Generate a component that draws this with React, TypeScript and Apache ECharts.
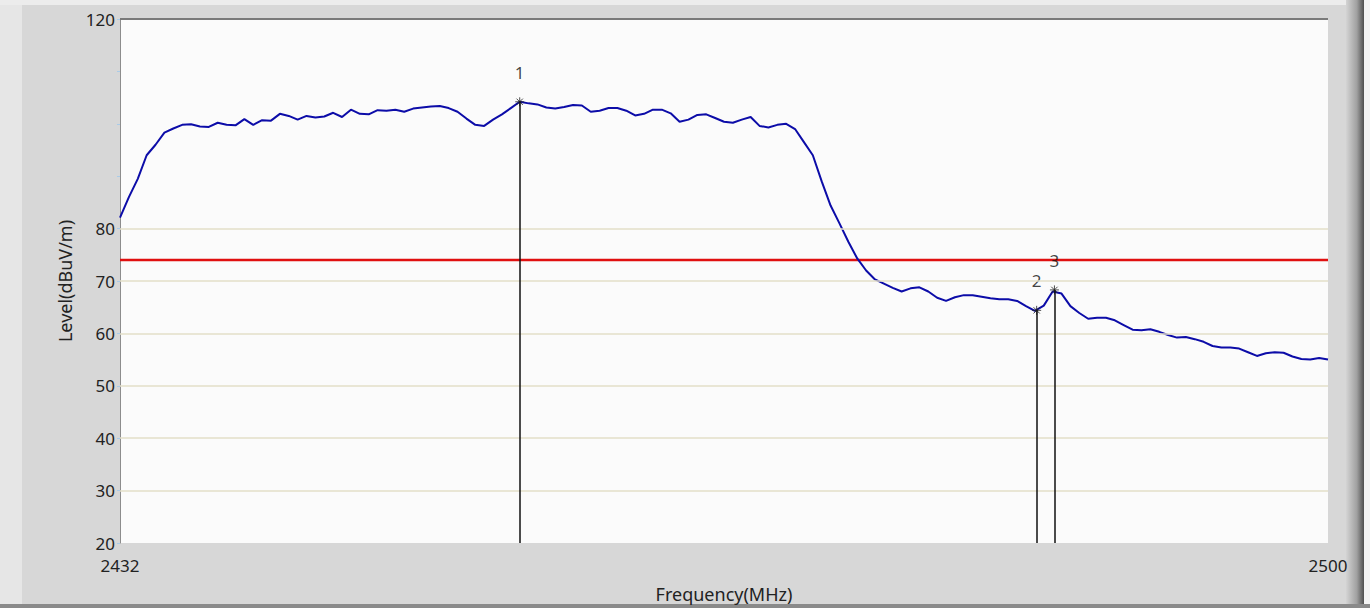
import { useEffect, useRef } from "react";
import * as echarts from "echarts";

const frequencies = [
  2432.0, 2432.5, 2433.0, 2433.5, 2434.0, 2434.5, 2435.0, 2435.5, 2436.0, 2436.5,
  2437.0, 2437.5, 2438.0, 2438.5, 2439.0, 2439.5, 2440.0, 2440.5, 2441.0, 2441.5,
  2442.0, 2442.5, 2443.0, 2443.5, 2444.0, 2444.5, 2445.0, 2445.5, 2446.0, 2446.5,
  2447.0, 2447.5, 2448.0, 2448.5, 2449.0, 2449.5, 2450.0, 2450.5, 2451.0, 2451.5,
  2452.0, 2452.5, 2453.0, 2453.5, 2454.0, 2454.5, 2455.0, 2455.5, 2456.0, 2456.5,
  2457.0, 2457.5, 2458.0, 2458.5, 2459.0, 2459.5, 2460.0, 2460.5, 2461.0, 2461.5,
  2462.0, 2462.5, 2463.0, 2463.5, 2464.0, 2464.5, 2465.0, 2465.5, 2466.0, 2466.5,
  2467.0, 2467.5, 2468.0, 2468.5, 2469.0, 2469.5, 2470.0, 2470.5, 2471.0, 2471.5,
  2472.0, 2472.5, 2473.0, 2473.5, 2474.0, 2474.5, 2475.0, 2475.5, 2476.0, 2476.5,
  2477.0, 2477.5, 2478.0, 2478.5, 2479.0, 2479.5, 2480.0, 2480.5, 2481.0, 2481.5,
  2482.0, 2482.5, 2483.0, 2483.5, 2484.0, 2484.5, 2485.0, 2485.5, 2486.0, 2486.5,
  2487.0, 2487.5, 2488.0, 2488.5, 2489.0, 2489.5, 2490.0, 2490.5, 2491.0, 2491.5,
  2492.0, 2492.5, 2493.0, 2493.5, 2494.0, 2494.5, 2495.0, 2495.5, 2496.0, 2496.5,
  2497.0, 2497.5, 2498.0, 2498.5, 2499.0, 2499.5, 2500.0,
];

const levels = [
  82.1, 86.0, 89.5, 94.0, 96.0, 98.3, 99.1, 99.8, 99.9, 99.5,
  99.4, 100.2, 99.8, 99.7, 100.9, 99.8, 100.7, 100.6, 101.9, 101.5,
  100.8, 101.5, 101.2, 101.4, 102.1, 101.3, 102.7, 101.9, 101.8, 102.6,
  102.5, 102.7, 102.3, 102.9, 103.1, 103.3, 103.4, 103.0, 102.3, 101.0,
  99.8, 99.6, 100.8, 101.8, 103.0, 104.2, 103.9, 103.7, 103.1, 102.9,
  103.2, 103.6, 103.5, 102.3, 102.5, 103.0, 103.0, 102.5, 101.6, 101.9,
  102.7, 102.7, 102.0, 100.4, 100.8, 101.7, 101.8, 101.1, 100.4, 100.2,
  100.8, 101.3, 99.6, 99.3, 99.8, 100.0, 99.0, 96.5, 94.0, 89.0,
  84.4, 81.0, 77.5, 74.3, 72.0, 70.3, 69.5, 68.7, 68.0, 68.6,
  68.8, 68.0, 66.8, 66.2, 66.9, 67.3, 67.3, 67.0, 66.7, 66.5,
  66.5, 66.2, 65.2, 64.3, 65.3, 68.0, 67.6, 65.2, 63.9, 62.8,
  63.0, 63.0, 62.5, 61.6, 60.7, 60.6, 60.8, 60.3, 59.7, 59.2,
  59.3, 58.9, 58.4, 57.6, 57.3, 57.3, 57.1, 56.4, 55.7, 56.2,
  56.4, 56.3, 55.6, 55.1, 55.0, 55.3, 55.0,
];

const limitLevel = 74;
const markerFreqs = [2454.5, 2483.6, 2484.6];
const markerLevels = [104.2, 64.4, 68.3];
const markerLabels = ["1", "2", "3"];
const yTickLabels = [20, 30, 40, 50, 60, 70, 80, 120];
const gridLevels = [30, 40, 50, 60, 70, 80];
const xTickLabels = [2432, 2500];
const yMin = 20;
const yMax = 120;
const xMin = 2432;
const xMax = 2500;

const FONT = "Noto Sans";

export default function App() {
  const ref = useRef<HTMLDivElement>(null);
  useEffect(() => {
    document.body.style.margin = "0";
    const chart = echarts.init(ref.current!, null, { renderer: "svg" });
    const trace = frequencies.map((f, i) => [f, levels[i]]);
    const markers = markerFreqs.map((f, i) => ({
      value: [f, markerLevels[i]],
      label: { formatter: markerLabels[i] },
    }));
    chart.setOption({
      animation: false,
      backgroundColor: "#d7d7d7",
      graphic: [
        { type: "rect", shape: { x: 0, y: 0, width: 22, height: 608 }, style: { fill: "#e6e6e6" }, z: -10 },
        { type: "rect", shape: { x: 0, y: 0, width: 1370, height: 5 }, style: { fill: "#ececec" }, z: -10 },
        {
          type: "rect",
          shape: { x: 1346, y: 0, width: 18, height: 608 },
          style: {
            fill: new echarts.graphic.LinearGradient(0, 0, 1, 0, [
              { offset: 0, color: "#d4d4d4" },
              { offset: 0.6, color: "#a0a0a0" },
              { offset: 1, color: "#505050" },
            ]),
          },
          z: -10,
        },
        { type: "rect", shape: { x: 1364, y: 0, width: 6, height: 608 }, style: { fill: "#f4f4f4" }, z: -10 },
        { type: "rect", shape: { x: 0, y: 604, width: 1370, height: 4 }, style: { fill: "#8a8a8a" }, z: -10 },
      ],
      grid: {
        left: 120,
        right: 42,
        top: 19,
        bottom: 64,
        show: true,
        backgroundColor: "#fbfbfb",
        borderWidth: 0,
      },
      xAxis: {
        type: "value",
        min: xMin,
        max: xMax,
        name: "Frequency(MHz)",
        nameLocation: "middle",
        nameGap: 42,
        nameTextStyle: { fontFamily: FONT, fontSize: 18, color: "#222" },
        axisLine: { show: false },
        axisTick: { show: false },
        splitLine: { show: false },
        axisLabel: {
          customValues: xTickLabels,
          fontFamily: FONT,
          fontSize: 17,
          color: "#222",
          margin: 14,
          formatter: (v: number) => String(v),
        },
      },
      yAxis: {
        type: "value",
        min: yMin,
        max: yMax,
        interval: 10,
        name: "Level(dBuV/m)",
        nameLocation: "middle",
        nameGap: 46,
        nameRotate: 90,
        nameTextStyle: { fontFamily: FONT, fontSize: 18, color: "#222" },
        axisLine: { show: true, lineStyle: { color: "#8c8c8c", width: 1 } },
        axisTick: { show: true, length: 3, lineStyle: { color: "#a9cbe8" } },
        splitLine: { show: false },
        axisLabel: {
          fontFamily: FONT,
          fontSize: 17,
          color: "#222",
          margin: 5,
          formatter: (v: number) => (yTickLabels.includes(v) ? String(v) : ""),
        },
      },
      series: [
        {
          type: "line",
          data: [],
          z: 1,
          silent: true,
          markLine: {
            silent: true,
            symbol: "none",
            label: { show: false },
            data: [
              ...gridLevels.map((v) => ({ yAxis: v, lineStyle: { color: "#e3dfc8", width: 1.5, type: "solid" } })),
              { yAxis: yMax, lineStyle: { color: "#7a7a7a", width: 2, type: "solid" } },
            ],
          },
        },
        {
          type: "line",
          data: [
            [xMin, limitLevel],
            [xMax, limitLevel],
          ],
          symbol: "none",
          z: 2,
          lineStyle: { color: "#e01010", width: 2.5 },
        },
        {
          type: "line",
          data: trace,
          symbol: "none",
          z: 3,
          lineStyle: { color: "#0c0ca8", width: 2 },
        },
        {
          type: "scatter",
          data: markers,
          z: 4,
          symbol: "path://M0,-5L0,5M-5,0L5,0M-3.5,-3.5L3.5,3.5M-3.5,3.5L3.5,-3.5",
          symbolSize: 9,
          itemStyle: { color: "none", borderColor: "#222", borderWidth: 1 },
          label: {
            show: true,
            position: "top",
            distance: 14,
            fontFamily: FONT,
            fontSize: 17,
            color: "#111",
          },
          markLine: {
            silent: true,
            symbol: "none",
            label: { show: false },
            lineStyle: { color: "#111", width: 1.5, type: "solid" },
            data: markerFreqs.map((f, i) => [
              { coord: [f, yMin] },
              { coord: [f, markerLevels[i]] },
            ]),
          },
        },
      ],
    });
    return () => chart.dispose();
  }, []);
  return <div ref={ref} style={{ width: 1370, height: 608 }} />;
}
